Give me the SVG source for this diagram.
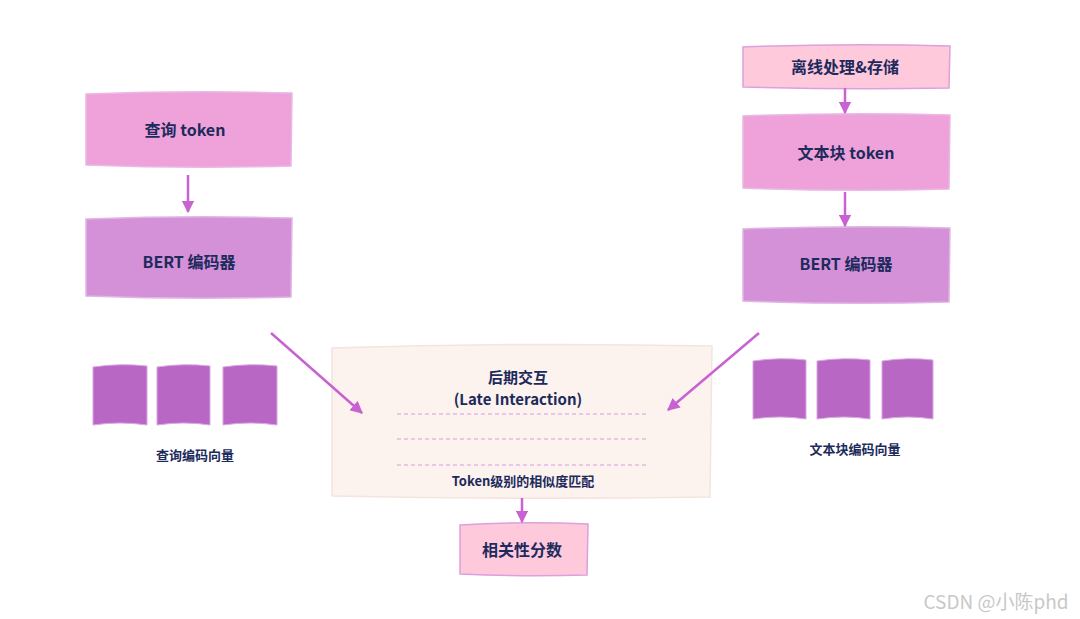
<svg xmlns="http://www.w3.org/2000/svg" width="1080" height="619" viewBox="0 0 1080 619">
<defs>
<style>
.t{font-family:"Noto Sans CJK SC","Liberation Sans",sans-serif;font-weight:bold;fill:#1c2a5c;text-anchor:middle;dominant-baseline:central}
.big{font-size:16px}
.mid{font-size:15px}
.sm{font-size:13px}
.tok{fill:#efa2da;stroke:#e8b8e6;stroke-width:1.5}
.enc{fill:#d491d8;stroke:#e0b5e6;stroke-width:1.5}
.pink{fill:#ffc9dc;stroke:#dca0dc;stroke-width:1.5}
.vec{fill:#b867c5;stroke:#d9a8e0;stroke-width:1}
.con{stroke:#c862d2;stroke-width:2.5;fill:none}
.dash{stroke:#d89ae0;stroke-width:1.2;stroke-dasharray:4 3}
</style>
<marker id="ah" viewBox="0 0 10 10" refX="9" refY="5" markerWidth="5" markerHeight="5" orient="auto" markerUnits="strokeWidth">
<path d="M0,0 L10,5 L0,10 z" fill="#c862d2"/>
</marker>
</defs>
<rect width="1080" height="619" fill="#ffffff"/>

<g id="query-token">
<path class="tok" d="M86,94 Q190,90 292,93 L291,166 Q190,169 86,165 Z"/>
<text class="t big" x="185" y="129">查询 token</text>
</g>
<g id="query-bert">
<path class="enc" d="M86,219 Q190,215 292,218 L291,297 Q190,300 86,296 Z"/>
<text class="t big" x="189" y="261">BERT 编码器</text>
</g>
<g id="query-vectors">
<path class="vec" d="M93,367 Q120,363 147,366 L147,425 Q120,421 93,425 Z"/>
<path class="vec" d="M157,367 Q184,363 210,366 L210,425 Q184,421 157,425 Z"/>
<path class="vec" d="M223,367 Q250,363 277,366 L277,425 Q250,421 223,425 Z"/>
<text class="t sm" x="195" y="454">查询编码向量</text>
</g>

<g id="offline">
<path class="pink" d="M743,47 Q846,43 950,46 L949,88 Q846,90 743,87 Z"/>
<text class="t big" x="845" y="66">离线处理&amp;存储</text>
</g>
<g id="doc-token">
<path class="tok" d="M743,116 Q846,112 950,115 L949,189 Q846,192 743,188 Z"/>
<text class="t big" x="846" y="152">文本块 token</text>
</g>
<g id="doc-bert">
<path class="enc" d="M743,229 Q846,225 950,228 L949,302 Q846,305 743,301 Z"/>
<text class="t big" x="846" y="263">BERT 编码器</text>
</g>
<g id="doc-vectors">
<path class="vec" d="M753,361 Q780,357 806,360 L806,419 Q780,415 753,419 Z"/>
<path class="vec" d="M817,361 Q844,357 870,360 L870,419 Q844,415 817,419 Z"/>
<path class="vec" d="M882,361 Q908,357 933,360 L933,419 Q908,415 882,419 Z"/>
<text class="t sm" x="855" y="448">文本块编码向量</text>
</g>

<g id="late-interaction">
<path d="M332,348 Q520,342 712,346 L710,497 Q520,500 332,496 Z" fill="#fcf2ee" stroke="#f4e4e0" stroke-width="1.5"/>
<text class="t mid" x="518" y="376">后期交互</text>
<text class="t mid" x="518" y="398">(Late Interaction)</text>
<line class="dash" x1="397" y1="414" x2="648" y2="414"/>
<line class="dash" x1="397" y1="439" x2="648" y2="439"/>
<line class="dash" x1="397" y1="465" x2="648" y2="465"/>
<text class="t sm" x="523" y="480">Token级别的相似度匹配</text>
</g>

<g id="score">
<path class="pink" d="M460,525 Q524,521 588,524 L587,575 Q524,577 460,574 Z"/>
<text class="t big" x="522" y="549">相关性分数</text>
</g>

<g id="connectors">
<line class="con" x1="188" y1="175" x2="188" y2="212" marker-end="url(#ah)"/>
<line class="con" x1="845" y1="88" x2="845" y2="113" marker-end="url(#ah)"/>
<line class="con" x1="845" y1="192" x2="845" y2="226" marker-end="url(#ah)"/>
<line class="con" x1="271" y1="333" x2="362" y2="413" marker-end="url(#ah)"/>
<line class="con" x1="759" y1="333" x2="668" y2="410" marker-end="url(#ah)"/>
<line class="con" x1="522" y1="498" x2="522" y2="522" marker-end="url(#ah)"/>
</g>

<text x="996" y="600" font-family="Noto Sans CJK SC, Liberation Sans, sans-serif" font-size="19" fill="#c8c8c8" text-anchor="middle" dominant-baseline="central">CSDN @小陈phd</text>
</svg>
